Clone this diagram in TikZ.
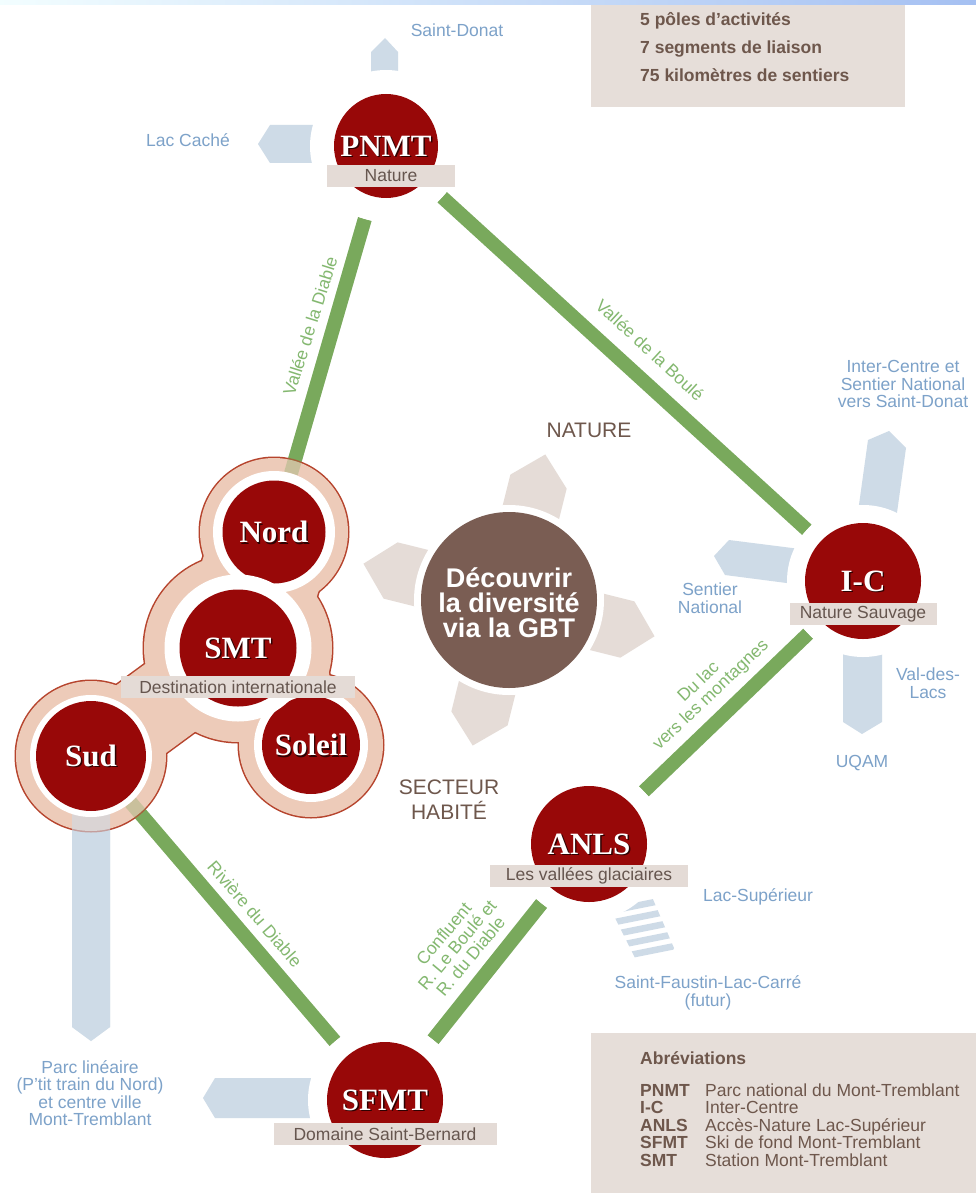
\documentclass[tikz,border=0pt]{standalone}
\usepackage{fontspec}
\setmainfont{Liberation Sans}
\newfontfamily\serifb{Liberation Serif}
\usetikzlibrary{calc}
\pgfdeclarelayer{arrows}\pgfdeclarelayer{blob}\pgfdeclarelayer{over}
\pgfsetlayers{arrows,blob,over,main}
\definecolor{pred}{HTML}{980808}
\definecolor{gline}{HTML}{79A95C}
\definecolor{gtxt}{HTML}{84B870}
\definecolor{barrow}{HTML}{CEDBE7}
\definecolor{btxt}{HTML}{7DA2C9}
\definecolor{tagf}{HTML}{E4DBD6}
\definecolor{tagt}{HTML}{66564F}
\definecolor{boxf}{HTML}{E6DED9}
\definecolor{boxt}{HTML}{6E574C}
\definecolor{peach}{HTML}{EDCBB9}
\definecolor{pborder}{HTML}{B6442D}
\definecolor{cbrown}{HTML}{7A5D53}
\definecolor{carrow}{HTML}{E5DCD7}
\tikzset{
  lab/.style={font=\serifb\bfseries\fontsize{31}{31}\selectfont, inner sep=0},
  tag/.style={fill=tagf, text=tagt, font=\fontsize{17.5}{17.5}\selectfont, minimum height=22pt, inner sep=0},
  halo/.style={circle, fill=white, inner sep=0, outer sep=0},
  disc/.style={circle, fill=pred, inner sep=0, outer sep=0},
  gl/.style={draw=gline, line width=14pt},
  btext/.style={text=btxt, font=\fontsize{17.5}{17.5}\selectfont, align=center, inner sep=0},
  gtext/.style={text=gtxt, font=\fontsize{17.5}{17.5}\selectfont, align=center, inner sep=0},
  ttext/.style={text=boxt, font=\fontsize{21}{25}\selectfont, align=center, inner sep=0},
  boxtext/.style={text=boxt, font=\fontsize{17.5}{17.5}\selectfont, inner sep=0, anchor=base west},
}
\newcommand\drawpole[5]{%
  \node[disc, minimum size=#4] (#1) at (#2,#3) {};
  \node[lab, text=black!70!pred] at ([shift={(1.4pt,-1.4pt)}]#1.center) {#5};
  \node[lab, text=white] at (#1.center) {#5};
}
\begin{document}
\begin{tikzpicture}[x=1pt,y=-1pt]
\useasboundingbox (0,0) rectangle (976,1193);
\begin{pgfonlayer}{arrows}
\fill[white] (0,0) rectangle (976,1193);
\end{pgfonlayer}
\shade[left color=blue!10!cyan!5!white, right color={rgb,255:red,165;green,192;blue,242}] (0,0) rectangle (976,5);
% boxes
\fill[boxf] (591,5) rectangle (905,107);
\node[boxtext, font=\bfseries\fontsize{17.5}{17.5}\selectfont] at (640,26) {5 pôles d’activités};
\node[boxtext, font=\bfseries\fontsize{17.5}{17.5}\selectfont] at (640,54) {7 segments de liaison};
\node[boxtext, font=\bfseries\fontsize{17.5}{17.5}\selectfont] at (640,82) {75 kilomètres de sentiers};
\fill[boxf] (591,1033) rectangle (976,1193);
\node[boxtext, font=\bfseries\fontsize{17.5}{17.5}\selectfont] at (640,1064) {Abréviations};
\foreach \a/\d/\y in {PNMT/Parc national du Mont-Tremblant/1096, I-C/Inter-Centre/1113.5, ANLS/Accès-Nature Lac-Supérieur/1131, SFMT/Ski de fond Mont-Tremblant/1148.5, SMT/Station Mont-Tremblant/1166}{
  \node[boxtext, font=\bfseries\fontsize{17.5}{17.5}\selectfont] at (640,\y) {\a};
  \node[boxtext] at (705,\y) {\d};
}
% ---- main layer: halos and poles
\node[halo, minimum size=152pt] (PNMTh) at (386,146) {};
\node[halo, minimum size=152pt] (ICh) at (863,581) {};
\node[halo, minimum size=152pt] (ANLSh) at (589,844) {};
\node[halo, minimum size=154pt] (SFMTh) at (385,1100) {};
\node[halo, minimum size=190pt] (Ch) at (509,600) {};
\node[circle, fill=cbrown, minimum size=176pt, inner sep=0] (C) at (509,600) {};
\node[text=white, font=\bfseries\fontsize{27}{25}\selectfont, align=center, inner sep=0] at (509,603) {Découvrir\\la diversité\\via la GBT};
\drawpole{PNMT}{386}{146}{104pt}{PNMT}
\drawpole{IC}{863}{581}{116pt}{I-C}
\drawpole{ANLS}{589}{844}{116pt}{ANLS}
\drawpole{SFMT}{385}{1100}{116pt}{SFMT}
\node[halo, minimum size=122pt] (Nordw) at (274,532) {};
\drawpole{Nord}{274}{532}{103pt}{Nord}
\node[halo, minimum size=114pt] (Soleilw) at (311,745) {};
\drawpole{Soleil}{311}{745}{98pt}{Soleil}
\node[halo, minimum size=122pt] (Sudw) at (91,756) {};
\drawpole{Sud}{91}{756}{110pt}{Sud}
\node[halo, minimum size=147pt] (SMTw) at (238,648) {};
\drawpole{SMT}{238}{648}{117pt}{SMT}
% tags
\node[tag, minimum width=128pt] at (391,176) {Nature};
\node[tag, minimum width=147pt] at (863,614) {Nature Sauvage};
\node[tag, minimum width=234pt] at (238,687) {Destination internationale};
\node[tag, minimum width=198pt] at (589,876) {Les vallées glaciaires};
\node[tag, minimum width=223pt] at (385,1134) {Domaine Saint-Bernard};
% ---- arrows layer
\begin{pgfonlayer}{arrows}
\fill[barrow] (371,90) -- (371,52) -- (385,38) -- (398,52) -- (398,90) -- cycle;
\fill[barrow] (340,125) -- (270,125) -- (258,144) -- (270,163) -- (340,163) -- cycle;
\fill[barrow] (857,519) -- (868,440) -- (889,431) -- (906,448) -- (895,527) -- cycle;
\fill[barrow] (808,550) -- (729,540) -- (714,556) -- (725,575) -- (802,585) -- cycle;
\fill[barrow] (843,630) -- (882,630) -- (882,722) -- (862,734) -- (843,722) -- cycle;
\fill[barrow] (72,790) -- (72,1027) -- (91,1041) -- (110,1027) -- (110,790) -- cycle;
\fill[barrow] (340,1078) -- (215,1078) -- (203,1098) -- (215,1118) -- (340,1118) -- cycle;
\begin{scope}
\clip (615,918) -- (630,899) -- (652,897) -- (674,948) -- (668,964) -- (638,964) -- cycle;
\foreach \i in {0,...,4}{
  \draw[barrow, line width=6.5pt] (600,{913+12*\i}) -- (690,{895+12*\i});
}
\end{scope}
\foreach \r in {-14,-104,-194,76}{
  \begin{scope}[shift={(509,600)}, rotate=\r]
  \fill[carrow] (-29,-80) -- (-29,-122) -- (0,-150) -- (29,-122) -- (29,-80) -- cycle;
  \end{scope}
}
\draw[gl] (PNMTh) -- (Nordw);
\draw[gl] (PNMTh) -- (ICh);
\draw[gl] (ICh) -- (ANLSh);
\draw[gl] (ANLSh) -- (SFMTh);
\draw[gl] (SFMTh) -- (Sudw);
\end{pgfonlayer}
% ---- blob
\begin{pgfonlayer}{blob}
\foreach \n/\r in {Nord/75.5, SMT/95.5, Soleil/73.5, Sud/76.5} \fill[pborder] (\n.center) circle (\r pt);
\draw[pborder, line width=123pt, line cap=round] (Nord.center) -- (SMT.center);
\draw[pborder, line width=87pt, line cap=round] (SMT.center) -- (Sud.center);
\draw[pborder, line width=63pt, line cap=round] (Nord.center) -- (Soleil.center);
\foreach \n/\r in {Nord/74, SMT/94, Soleil/72, Sud/75} \fill[peach] (\n.center) circle (\r pt);
\draw[peach, line width=120pt, line cap=round] (Nord.center) -- (SMT.center);
\draw[peach, line width=84pt, line cap=round] (SMT.center) -- (Sud.center);
\draw[peach, line width=60pt, line cap=round] (Nord.center) -- (Soleil.center);
\end{pgfonlayer}
\begin{pgfonlayer}{over}
\draw[gl, opacity=0.3] (PNMTh) -- (Nordw);
\draw[gl, opacity=0.3] (SFMTh) -- (Sudw);
\fill[barrow, opacity=0.6] (72,790) -- (72,1027) -- (91,1041) -- (110,1027) -- (110,790) -- cycle;
\end{pgfonlayer}
% ---- texts
\node[btext] at (457,30) {Saint-Donat};
\node[btext] at (188,140) {Lac Caché};
\node[btext] at (903,384) {Inter-Centre et\\Sentier National\\vers Saint-Donat};
\node[btext] at (710,598) {Sentier\\National};
\node[btext] at (928,683) {Val-des-\\Lacs};
\node[btext] at (862,763) {UQAM};
\node[btext] at (758,897) {Lac-Supérieur};
\node[btext] at (708,993) {Saint-Faustin-Lac-Carré\\(futur)};
\node[btext] at (90,1093) {Parc linéaire\\(P’tit train du Nord)\\et centre ville\\Mont-Tremblant};
\node[ttext] at (589,430) {NATURE};
\node[ttext] at (449,800) {SECTEUR\\HABITÉ};
\node[gtext, rotate=72.5] at (310,326) {Vallée de la Diable};
\node[gtext, rotate=-42.8] at (650,350) {Vallée de la Boulé};
\node[gtext, rotate=43.4] at (705,689) {Du lac\\vers les montagnes};
\node[gtext, rotate=-49] at (255,914) {Rivière du Diable};
\node[gtext, rotate=50] at (457,945) {Confluent\\R. Le Boulé et\\R. du Diable};
\end{tikzpicture}
\end{document}
